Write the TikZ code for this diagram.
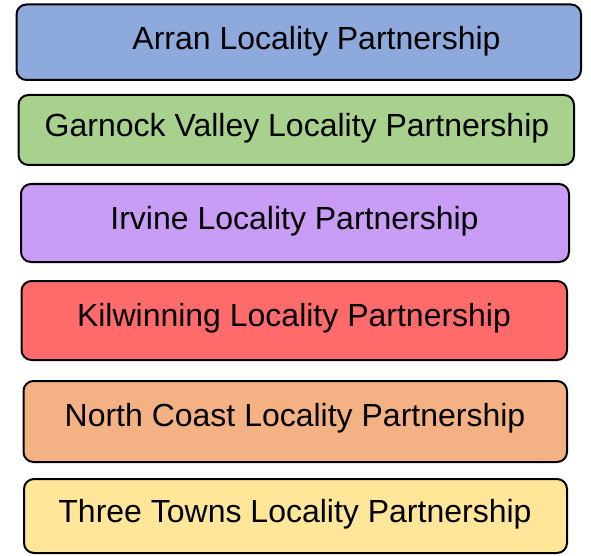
\documentclass[tikz,border=0pt]{standalone}
\usepackage{fontspec}
\setmainfont{Liberation Sans}
\definecolor{cArran}{HTML}{8EAADC}
\definecolor{cGarnock}{HTML}{A9D18E}
\definecolor{cIrvine}{HTML}{C99CF5}
\definecolor{cKil}{HTML}{FF6B6B}
\definecolor{cNC}{HTML}{F4B183}
\definecolor{cTT}{HTML}{FFE699}
\tikzset{
  lpbox/.style={draw=black, line width=2pt, rounded corners=10pt, inner sep=0pt, outer sep=0pt},
  lptext/.style={anchor=base, inner sep=0pt, font=\fontsize{32}{38}\selectfont}
}
\begin{document}
\begin{tikzpicture}[x=1pt,y=-1pt]
\useasboundingbox (0,0) rectangle (591,556);
\node[lpbox, fill=cArran, minimum width=564.5pt, minimum height=75.5pt] (b1) at (298.75,42.25) {};
\node[lpbox, fill=cGarnock, minimum width=555.5pt, minimum height=70pt] (b2) at (296.25,130) {};
\node[lpbox, fill=cIrvine, minimum width=548pt, minimum height=78pt] (b3) at (295,223) {};
\node[lpbox, fill=cKil, minimum width=545.5pt, minimum height=79pt] (b4) at (294.25,320.5) {};
\node[lpbox, fill=cNC, minimum width=543.5pt, minimum height=81pt] (b5) at (295.25,421.5) {};
\node[lpbox, fill=cTT, minimum width=543pt, minimum height=74pt] (b6) at (295.5,516) {};
\node[lptext] (t1) at (316.5,50) {Arran Locality Partnership};
\node[lptext] (t2) at (297,137) {Garnock Valley Locality Partnership};
\node[lptext] (t3) at (294.5,229) {Irvine Locality Partnership};
\node[lptext] (t4) at (294,326) {Kilwinning Locality Partnership};
\node[lptext] (t5) at (295,426) {North Coast Locality Partnership};
\node[lptext] (t6) at (295,522) {Three Towns Locality Partnership};
\end{tikzpicture}
\end{document}
